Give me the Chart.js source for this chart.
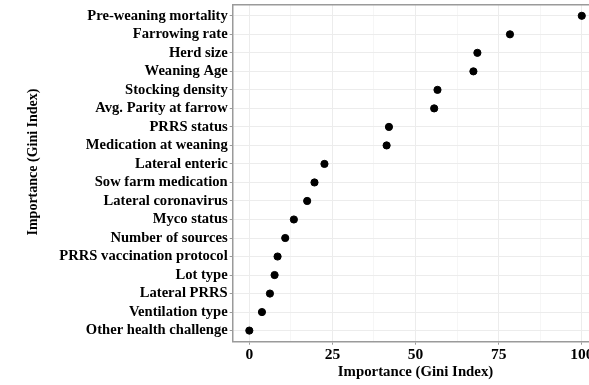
<!DOCTYPE html>
<html>
<head>
<meta charset="utf-8">
<script src="https://cdn.jsdelivr.net/npm/chart.js@4"></script>
<style>
  html, body { margin: 0; padding: 0; background: #fff; overflow: hidden; }
  #wrap { width: 589px; height: 385px; overflow: hidden; }
</style>
</head>
<body>
<div id="wrap"><canvas id="grafico" width="603" height="385"></canvas></div>
<script>
// variables, most important first
const variaveis = [
    'Pre-weaning mortality', 'Farrowing rate', 'Herd size', 'Weaning Age',
    'Stocking density', 'Avg. Parity at farrow', 'PRRS status', 'Medication at weaning',
    'Lateral enteric', 'Sow farm medication', 'Lateral coronavirus', 'Myco status',
    'Number of sources', 'PRRS vaccination protocol', 'Lot type', 'Lateral PRRS',
    'Ventilation type', 'Other health challenge'
];
// importance (Gini index), scaled 0-100
const importancia = [100, 78.4, 68.6, 67.4, 56.6, 55.6, 42.0, 41.3, 22.6, 19.6, 17.4, 13.4, 10.8, 8.5, 7.6, 6.2, 3.8, 0];
const ticksX = [0, 25, 50, 75, 100];
const ticksXMenor = [12.5, 37.5, 62.5, 87.5];
const tituloEixo = 'Importance (Gini Index)';

const fonte = 'Liberation Serif, Times New Roman, serif';
const corBorda = '#9a9a9a';
const corGrade = '#ececec';
const corGradeMenor = '#f6f6f6';

// panel frame (top/right) + rotated y title
const molduraPlugin = {
    id: 'moldura',
    afterDraw(chart) {
        const { ctx, chartArea } = chart;
        ctx.save();
        ctx.strokeStyle = corBorda;
        ctx.lineWidth = 1.5;
        ctx.beginPath();
        ctx.moveTo(chartArea.left, chartArea.top);
        ctx.lineTo(chartArea.right, chartArea.top);
        ctx.lineTo(chartArea.right, chartArea.bottom);
        ctx.stroke();

        ctx.translate(33, 162);
        ctx.rotate(-Math.PI / 2);
        ctx.fillStyle = '#000';
        ctx.font = `bold 14px ${fonte}`;
        ctx.textAlign = 'center';
        ctx.textBaseline = 'middle';
        ctx.fillText(tituloEixo, 0, 0);
        ctx.restore();
    }
};

const ctx = document.getElementById('grafico').getContext('2d');
const grafico = new Chart(ctx, {
    type: 'scatter',
    data: {
        datasets: [{
            data: importancia.map((v, i) => ({ x: v, y: i })),
            backgroundColor: '#000',
            borderColor: '#000',
            pointRadius: 3.6,
            pointHoverRadius: 3.6
        }]
    },
    options: {
        responsive: false,
        animation: false,
        layout: { padding: { top: 4.7, right: 0, left: 0, bottom: 0 } },
        plugins: {
            legend: { display: false },
            tooltip: { enabled: false }
        },
        scales: {
            x: {
                type: 'linear',
                min: -5,
                max: 105,
                afterBuildTicks: s => {
                    s.ticks = [...ticksX, ...ticksXMenor].sort((a, b) => a - b).map(v => ({ value: v }));
                },
                afterFit: s => {
                    s.height = 43.3;
                    s.paddingLeft = 0;
                    s.paddingRight = 0;
                },
                ticks: {
                    autoSkip: false,
                    maxRotation: 0,
                    padding: 1,
                    color: '#000',
                    font: { family: fonte, size: 15.5, weight: 'bold' },
                    callback: v => ticksX.includes(v) ? String(v) : ''
                },
                grid: {
                    color: c => ticksX.includes(c.tick.value) ? corGrade : corGradeMenor,
                    tickColor: c => ticksX.includes(c.tick.value) ? corBorda : 'rgba(0,0,0,0)',
                    tickLength: 3,
                    lineWidth: 1
                },
                border: { color: corBorda, width: 1.5 },
                title: {
                    display: true,
                    text: tituloEixo,
                    color: '#000',
                    font: { family: fonte, size: 14.8, weight: 'bold' },
                    padding: { top: 0, bottom: 3.6 }
                }
            },
            y: {
                type: 'linear',
                reverse: true,
                min: -0.6,
                max: 17.6,
                afterBuildTicks: s => {
                    s.ticks = variaveis.map((_, i) => ({ value: i }));
                },
                afterFit: s => {
                    s.width = 232.7;
                    s.paddingTop = 0;
                    s.paddingBottom = 0;
                },
                ticks: {
                    autoSkip: false,
                    padding: 2,
                    color: '#000',
                    font: { family: fonte, size: 14.6, weight: 'bold' },
                    callback: v => variaveis[v]
                },
                grid: {
                    color: corGrade,
                    tickColor: corBorda,
                    tickLength: 3,
                    lineWidth: 1
                },
                border: { color: corBorda, width: 1.5 }
            }
        }
    },
    plugins: [molduraPlugin]
});
</script>
</body>
</html>
